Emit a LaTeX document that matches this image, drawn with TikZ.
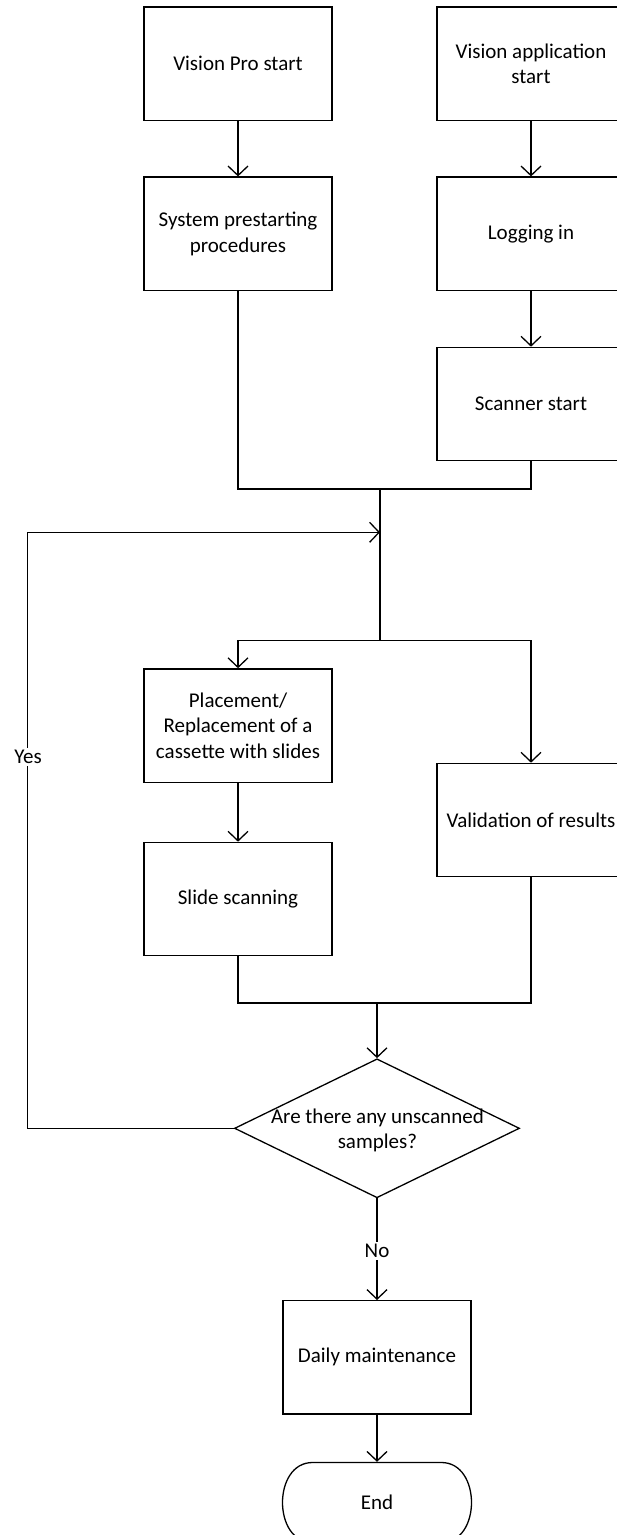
\documentclass[tikz,border=0pt]{standalone}
\usepackage{fontspec}
\setmainfont{Carlito}
\usetikzlibrary{arrows.meta,shapes.geometric}
\begin{document}
\begin{tikzpicture}[x=1pt,y=-1pt,
  line width=1.3pt,
  every node/.style={font=\fontsize{21}{25.6}\selectfont, align=center},
  procbox/.style={draw, rectangle, minimum width=188pt, minimum height=113.3pt, inner sep=0pt},
  decbox/.style={draw, diamond, minimum width=285pt, minimum height=139pt, inner sep=0pt},
  arr/.style={-{Straight Barb[length=9.5pt,width=20pt]}},
  lbl/.style={fill=white, inner sep=2pt}
]
\useasboundingbox (0,0) rectangle (617,1535);

\node[procbox] (vp) at (238,63.7) {Vision Pro start};
\node[procbox] (va) at (531,63.7) {Vision application\\start};
\node[procbox] (sp) at (238,233.7) {System prestarting\\procedures};
\node[procbox] (li) at (531,233.7) {Logging in};
\node[procbox] (ss) at (531,404) {Scanner start};
\node[procbox] (pl) at (238,725.5) {Placement/\\Replacement of a\\cassette with slides};
\node[procbox] (vr) at (531,820) {Validation of results};
\node[procbox] (sc) at (238,899) {Slide scanning};
\node[decbox] (dia) at (377,1128.3) {};
\node (diatext) at (377.4,1130.2) {Are there any unscanned\\samples?};
\node[procbox] (dm) at (377,1357.3) {Daily maintenance};
\node[minimum width=189pt, minimum height=80pt, inner sep=0pt] (endn) at (377,1502.5) {End};
\draw (312.5,1462.5) -- (441.5,1462.5)
  .. controls (481.5,1462.5) and (481.5,1542.5) .. (441.5,1542.5)
  -- (312.5,1542.5)
  .. controls (272.5,1542.5) and (272.5,1462.5) .. (312.5,1462.5) -- cycle;

\coordinate (m1) at (380,489);
\coordinate (b1) at (380,640.5);
\coordinate (m2) at (377,1003);
\coordinate (lx) at (27.5,1128.3);
\coordinate (lin) at (380,532.3);

\draw[arr] (vp) -- (sp);
\draw[arr] (va) -- (li);
\draw[arr] (li) -- (ss);
\draw (sp.south) |- (m1) -| (ss.south);
\draw (m1) -- (b1);
\draw[arr] (b1) -| (pl.north);
\draw[arr] (b1) -| (vr.north);
\draw[arr] (pl) -- (sc);
\draw (sc.south) |- (m2) -| (vr.south);
\draw[arr] (m2) -- (dia.north);
\draw[arr] (dia.west) -- (lx) |- (lin);
\node[lbl] (yes) at (28,757) {Yes};
\draw[arr] (dia.south) -- (dm.north);
\node[lbl] (no) at (377,1251) {No};
\draw[arr] (dm) -- (endn.north);
\end{tikzpicture}
\end{document}
